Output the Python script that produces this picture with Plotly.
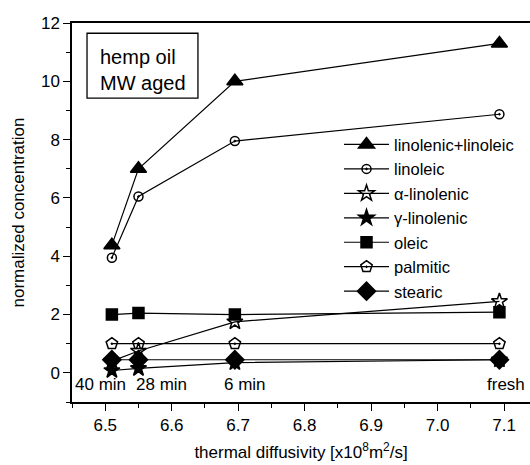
import plotly.graph_objects as go

# thermal diffusivity (x-values) for the four aging states
diffusivity = [6.51, 6.55, 6.695, 7.093]
age_labels = ["40 min", "28 min", "6 min", "fresh"]

series_names = ["linolenic+linoleic", "linoleic", "\u03b1-linolenic", "\u03b3-linolenic",
                "oleic", "palmitic", "stearic"]
lin_lin = [4.38, 7.0, 10.0, 11.3]
linoleic = [3.95, 6.05, 7.95, 8.87]
alpha_lin = [0.4, 0.75, 1.75, 2.45]
gamma_lin = [0.08, 0.15, 0.35, 0.45]
oleic = [2.0, 2.05, 2.0, 2.08]
palmitic = [1.0, 1.0, 1.0, 1.0]
stearic = [0.45, 0.45, 0.45, 0.45]

series_values = [lin_lin, linoleic, alpha_lin, gamma_lin, oleic, palmitic, stearic]
symbols = ["triangle-up", "circle-open-dot", "star-open", "star", "square",
           "pentagon-open-dot", "diamond"]
sizes = [14, 9, 12, 12, 11, 12, 14]

FONT = "Liberation Sans, Arial, sans-serif"
fig = go.Figure()
for name, vals, sym, sz in zip(series_names, series_values, symbols, sizes):
    fig.add_trace(go.Scatter(
        x=diffusivity, y=vals, name=name, mode="lines+markers",
        line=dict(color="black", width=1.2),
        marker=dict(symbol=sym, size=sz, color="black",
                    line=dict(color="black", width=1.5)),
    ))

label_x = [6.4515, 6.543, 6.676, 7.071]
for xv, lab in zip(label_x, age_labels):
    fig.add_annotation(x=xv, y=-0.4, text=lab, showarrow=False, xanchor="left",
                       yanchor="middle", font=dict(size=17, color="black", family=FONT))

# box with sample description
fig.add_shape(type="rect", xref="paper", yref="paper", x0=0.0328, x1=0.275,
              y0=0.8016, y1=0.973, line=dict(color="black", width=1.3))
fig.add_annotation(xref="paper", yref="paper", x=0.0568, y=0.877, xanchor="left",
                   yanchor="middle", showarrow=False, align="left",
                   text="hemp oil<br>MW aged",
                   font=dict(size=20, color="black", family=FONT))

fig.update_layout(
    width=530, height=465,
    margin=dict(l=72, r=0, t=23, b=63),
    paper_bgcolor="white", plot_bgcolor="white",
    font=dict(family=FONT, size=17, color="black"),
    showlegend=True,
    legend=dict(x=0.583, y=0.725, xanchor="left", yanchor="top",
                bgcolor="rgba(0,0,0,0)", font=dict(size=16.5, family=FONT),
                itemwidth=45, tracegroupgap=0),
    xaxis=dict(range=[6.45, 7.139], tick0=6.5, dtick=0.1, tickformat=".1f",
               showgrid=False, zeroline=False, showline=True, linecolor="black",
               linewidth=1.5, mirror=True, ticks="outside", ticklen=7, tickwidth=1.3,
               tickcolor="black", tickfont=dict(size=17),
               minor=dict(dtick=0.05, tick0=6.5, ticklen=4, tickwidth=1.3,
                          tickcolor="black", ticks="outside", showgrid=False),
               title=dict(text="thermal diffusivity [x10<sup>8</sup>m<sup>2</sup>/s]",
                          font=dict(size=17), standoff=12)),
    yaxis=dict(range=[-1, 12], tick0=0, dtick=2, showgrid=False, zeroline=False,
               showline=True, linecolor="black", linewidth=1.5, ticks="outside",
               ticklen=7, tickwidth=1.3, tickcolor="black", tickfont=dict(size=17),
               minor=dict(dtick=1, ticklen=4, tickwidth=1.3, tickcolor="black",
                          ticks="outside", showgrid=False),
               title=dict(text="normalized concentration", font=dict(size=17),
                          standoff=12)),
)

fig.write_html("out.html")
